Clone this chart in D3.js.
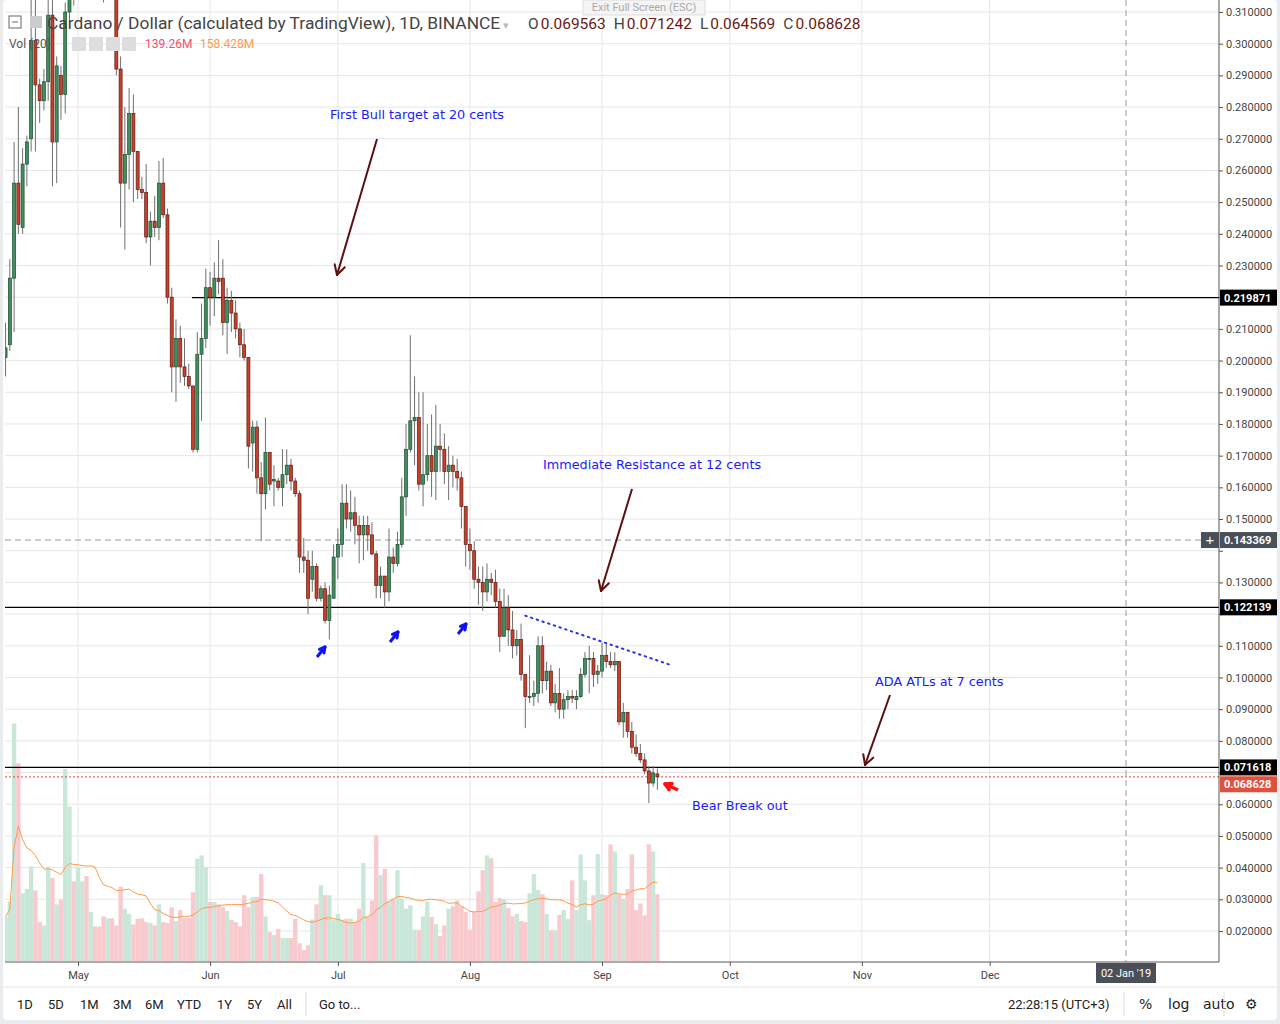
<!DOCTYPE html>
<html><head><meta charset="utf-8">
<script src="https://cdn.jsdelivr.net/npm/d3@7"></script>
<style>body{margin:0;background:#e9ecef;font-family:"Liberation Sans",Arial,sans-serif}</style>
</head><body>
<svg id="c" width="1280" height="1024"></svg>
<script>
// ---- DATA (prices in US cents) ----
const startDate = new Date(2018, 3, 14);
const openC  = [20.1,20.5,22.6,25.6,24.2,26.2,27.0,30.1,28.7,28.2,28.8,30.9,26.9,29.0,28.4,
 31.0,33.5,32.5,35.5,36.5,35,36,34.5,34,33,33.5,
 33.0,29.2,25.6,26.5,27.8,26.6,25.4,25.3,23.9,24.4,24.2,25.6,24.6,22.0,19.8,20.7,19.8,19.5,19.2,17.2,
 20.2,20.7,22.3,22.0,22.6,22.6,21.2,21.9,21.5,21.0,20.5,20.1,17.4,17.9,16.3,15.8,17.1,16.2,16.2,16.0,
 16.4,16.7,16.2,15.8,13.8,13.7,13.1,13.5,12.5,12.8,11.8,12.5,13.8,14.2,15.5,15.0,15.2,14.8,14.5,14.8,
 14.5,13.9,12.9,13.2,12.7,13.8,13.6,14.2,15.7,17.2,18.1,18.2,16.1,16.4,17.0,16.5,17.3,17.2,16.5,16.7,
 16.5,16.3,15.4,14.2,14.0,13.1,13.0,12.7,13.1,13.0,12.4,11.3,12.2,11.5,11.0,11.2,10.1,9.4,9.4,9.5,
 11.0,9.9,10.2,9.2,9.5,9.0,9.3,9.4,9.3,9.4,10.1,10.6,10.6,10.1,10.2,10.7,10.5,10.4,10.5,8.6,8.9,8.3,
 7.8,7.6,7.4,7.05,6.67,6.9563];
const highC  = [21.2,23.2,26.9,28.0,26.7,27.1,31.5,31.5,28.9,29.2,31.5,31.5,29.6,29.3,31.3,
 34.5,35,36,38,37.5,37,37,35.5,35,35,34.5,
 33.5,29.6,28.0,28.6,28.4,26.6,25.8,26.2,24.7,25.2,26.3,26.4,24.8,22.3,21.3,21.1,20.7,19.9,19.2,20.9,
 21.8,22.9,22.8,23.1,23.8,23.2,22.3,22.2,21.9,21.2,21.0,20.1,18.1,18.1,16.8,18.2,17.1,16.7,16.3,17.2,
 17.2,16.9,16.3,15.9,14.4,14.0,14.0,13.6,12.9,13.0,12.9,14.2,14.7,16.1,16.1,15.9,15.7,15.1,15.1,15.1,
 14.9,14.0,13.5,13.2,14.7,14.1,14.6,16.3,18.0,20.8,19.5,19.0,19.0,18.0,18.3,18.6,18.0,17.7,17.3,17.0,
 16.9,16.5,15.4,14.7,14.3,13.5,13.5,13.6,13.3,13.4,12.8,12.8,12.6,12.1,11.5,11.7,10.1,10.7,9.9,11.3,
 11.3,10.5,10.4,9.8,10.3,9.5,9.6,9.6,9.6,10.3,10.8,11.0,10.8,10.4,11.1,11.1,10.8,10.8,10.5,9.2,8.9,8.6,
 8.2,7.9,7.6,7.2,7.2,7.1242];
const lowC   = [19.5,20.3,20.9,24.0,24.0,25.5,26.6,26.6,27.5,27.9,28.2,25.5,25.6,27.6,27.8,
 30.5,31.2,32,34,33.5,33.5,33,32,31.3,32,32,
 29.0,24.2,23.5,25.4,25.0,25.1,25.1,23.7,23.0,23.9,23.8,24.5,21.8,19.0,18.7,19.3,19.2,19.1,17.1,17.1,
 18.1,20.4,21.1,21.4,22.1,20.8,20.2,20.9,20.7,20.1,20.0,16.6,16.5,15.8,14.3,15.3,15.9,15.4,15.9,15.4,
 16.1,15.9,15.7,13.3,13.3,12.0,12.7,12.4,12.4,11.7,11.2,12.5,13.1,13.8,14.7,14.6,14.2,13.6,13.7,14.0,
 13.85,12.5,12.5,12.2,12.4,13.3,13.5,14.1,15.1,17.1,16.7,15.9,15.4,16.2,15.7,15.6,16.5,16.1,15.6,16.0,
 15.9,14.7,13.5,13.4,12.8,12.3,12.1,12.4,12.6,12.2,10.8,11.3,11.0,10.6,10.7,9.9,8.4,9.2,9.1,9.2,
 9.5,9.6,9.1,8.9,8.7,8.7,9.0,9.2,9.0,9.35,10.0,9.5,9.7,9.8,10.0,10.3,10.3,10.2,8.5,8.1,8.1,7.6,
 7.5,7.3,6.95,6.04,6.55,6.4569];
const closeC = [20.4,22.6,25.6,24.3,26.2,26.9,30.1,28.7,28.2,28.8,30.9,26.9,29.3,28.4,31.0,
 33.5,32.5,35.5,36.5,35,36,34.5,34,33,33.5,33,
 29.2,25.6,26.5,27.8,26.6,25.4,25.3,23.9,24.4,24.2,25.6,24.6,22.0,19.8,20.7,19.8,19.5,19.2,17.2,20.2,
 20.7,22.3,22.0,22.6,22.5,21.2,21.9,21.5,21.0,20.5,20.1,17.3,17.9,16.3,15.8,17.1,16.1,16.25,16.0,16.4,
 16.7,16.2,15.8,13.8,13.7,12.5,13.5,12.5,12.8,11.8,12.6,13.8,14.2,15.5,15.0,15.2,14.8,14.5,14.8,14.5,
 13.9,12.9,13.2,12.7,13.8,13.6,14.2,15.7,17.2,18.1,18.2,16.1,16.4,17.0,16.5,17.3,17.2,16.5,16.7,16.5,
 16.3,15.4,14.2,14.0,13.1,13.0,12.7,13.1,13.0,12.4,11.3,12.2,11.5,11.0,11.2,10.1,9.4,9.4,9.5,11.0,
 9.9,10.2,9.2,9.5,9.0,9.3,9.4,9.35,9.4,10.1,10.6,10.6,10.1,10.2,10.7,10.5,10.4,10.5,8.6,8.9,8.3,7.8,
 7.6,7.4,7.05,6.67,6.99,6.8628];
const volumeM = [92,124,495,412,141,150,197,147,81,74,197,173,118,128,400,
 322,166,194,166,177,102,72,72,93,89,89,74,
 155,109,98,76,88,89,81,79,74,118,81,79,112,83,106,90,90,143,213,220,
 196,123,123,118,112,104,86,81,72,137,112,133,133,181,93,60,54,67,48,48,
 48,88,37,23,33,86,118,158,137,137,85,98,86,88,88,81,109,204,92,126,
 262,179,192,124,129,189,129,109,116,65,65,93,124,92,77,52,74,109,114,126,
 114,102,65,102,145,189,220,214,123,131,129,110,93,98,83,81,141,181,148,139,
 98,64,64,96,106,88,168,106,222,168,85,137,223,139,137,243,228,139,
 130,150,222,106,120,95,243,228,139];
const priceTicks = d3.range(2, 32).map(c => c / 100);
const monthTicks = [new Date(2018,4,1),new Date(2018,5,1),new Date(2018,6,1),new Date(2018,7,1),
 new Date(2018,8,1),new Date(2018,9,1),new Date(2018,10,1),new Date(2018,11,1)];
const levels = [{v:0.219871,x0:192},{v:0.122139,x0:5},{v:0.071618,x0:5}];
const lastPrice = 0.068628, crossPrice = 0.143369;
const notes = [
 {t:"First Bull target at 20 cents", x:330, y:119},
 {t:"Immediate Resistance at 12 cents", x:543, y:469},
 {t:"ADA ATLs at 7 cents", x:875, y:686},
 {t:"Bear Break out", x:692, y:810}];

const candles = openC.map((o,i)=>({d:d3.timeDay.offset(startDate,i),o:o/100,h:highC[i]/100,l:lowC[i]/100,c:closeC[i]/100,v:volumeM[i]}));

// ---- SCALES ----
const svg = d3.select("#c");
const L=5, R=1219, T=0, B=962;
const x = d3.scaleTime().domain([new Date(2018,4,1), new Date(2019,0,2)]).range([78,1126]);
const y = d3.scaleLinear().domain([0.02,0.31]).range([931,12]);
const yv = d3.scaleLinear().domain([0,100]).range([961,913]);

svg.append("rect").attr("x",3).attr("y",0).attr("width",1274).attr("height",1020).attr("rx",3).attr("fill","#fff");
svg.append("defs").append("clipPath").attr("id","clip").append("rect").attr("x",L).attr("y",T).attr("width",R-L).attr("height",B-T);

const g = svg.append("g").attr("clip-path","url(#clip)");
g.selectAll(".hg").data(priceTicks).join("line").attr("x1",L).attr("x2",R).attr("y1",d=>y(d)).attr("y2",d=>y(d)).attr("stroke","#e6e6e6");
g.selectAll(".vg").data(monthTicks).join("line").attr("y1",T).attr("y2",B).attr("x1",d=>x(d)).attr("x2",d=>x(d)).attr("stroke","#e6e6e6");

const bw = 4.3;
g.selectAll(".vol").data(candles).join("rect")
 .attr("x",d=>x(d.d)-bw/2).attr("width",bw).attr("y",d=>yv(d.v)).attr("height",d=>yv(0)-yv(d.v))
 .attr("fill",d=>d.c>=d.o?"#c9e7d8":"#f8c9cd");
const ma = candles.map((d,i)=>{const s=candles.slice(Math.max(0,i-19),i+1);return {d:d.d,v:d3.mean(s,e=>e.v)};});
g.append("path").datum(ma).attr("fill","none").attr("stroke","#ff9a4d").attr("stroke-width",1)
 .attr("d",d3.line().x(d=>x(d.d)).y(d=>yv(d.v)));

g.append("line").attr("x1",L).attr("x2",R).attr("y1",y(crossPrice)).attr("y2",y(crossPrice)).attr("stroke","#999").attr("stroke-dasharray","6,4");
g.append("line").attr("x1",x(new Date(2019,0,2))).attr("x2",x(new Date(2019,0,2))).attr("y1",T).attr("y2",B).attr("stroke","#999").attr("stroke-dasharray","6,4");
g.selectAll(".lv").data(levels).join("line").attr("x1",d=>d.x0).attr("x2",R).attr("y1",d=>y(d.v)).attr("y2",d=>y(d.v)).attr("stroke","#000").attr("stroke-width",1.2);
g.append("line").attr("x1",L).attr("x2",R).attr("y1",y(lastPrice)).attr("y2",y(lastPrice)).attr("stroke","#e0453a").attr("stroke-dasharray","2,2");

const cg = g.selectAll(".cd").data(candles).join("g");
cg.append("line").attr("x1",d=>x(d.d)).attr("x2",d=>x(d.d)).attr("y1",d=>y(d.h)).attr("y2",d=>y(d.l)).attr("stroke","#6f6f6f");
cg.append("rect").attr("x",d=>x(d.d)-1.5).attr("width",3)
 .attr("y",d=>y(Math.max(d.o,d.c))).attr("height",d=>Math.max(1,Math.abs(y(d.o)-y(d.c))))
 .attr("fill",d=>d.c>=d.o?"#3f8f5f":"#c8402c").attr("stroke",d=>d.c>=d.o?"#1f4a31":"#5a1a10").attr("stroke-width",0.7);

const trendD = [new Date(2018,7,14), new Date(2018,8,17)], trendV=[0.1195,0.1040];
g.append("line").attr("x1",x(trendD[0])).attr("x2",x(trendD[1])).attr("y1",y(trendV[0])).attr("y2",y(trendV[1]))
 .attr("stroke","#2233ee").attr("stroke-width",2).attr("stroke-dasharray","1.5,4.5").attr("stroke-linecap","round");

function arrow(x1,y1,x2,y2,col,w,hl){
 svg.append("line").attr("x1",x1).attr("y1",y1).attr("x2",x2).attr("y2",y2).attr("stroke",col).attr("stroke-width",w);
 const a=Math.atan2(y2-y1,x2-x1);
 [0.5,-0.5].forEach(s=>svg.append("line").attr("x1",x2).attr("y1",y2)
   .attr("x2",x2-hl*Math.cos(a+s)).attr("y2",y2-hl*Math.sin(a+s)).attr("stroke",col).attr("stroke-width",w).attr("stroke-linecap","round"));
}
arrow(377,139,337,275,"#5b1010",2,11);
arrow(632,489,601,591,"#5b1010",2,11);
arrow(890,695,865,765,"#5b1010",2,11);
[[317,657,325,647],[390,642,398,632],[458,634,466,624]].forEach(a=>arrow(a[0],a[1],a[2],a[3],"#1010ff",3,6));
arrow(678,790,665,784,"#ff1010",3.5,7);

svg.selectAll(".nt").data(notes).join("text").attr("x",d=>d.x).attr("y",d=>d.y).text(d=>d.t)
 .attr("fill","#1a1aff").attr("font-size",12.8).attr("font-family","DejaVu Sans, Verdana, sans-serif");

svg.append("line").attr("x1",R).attr("x2",R).attr("y1",0).attr("y2",B).attr("stroke","#555");
svg.append("line").attr("x1",L).attr("x2",R).attr("y1",B).attr("y2",B).attr("stroke","#555");
const labs=[{v:0.219871,f:"#000",p:0.219871},{v:crossPrice,f:"#4a4f58",p:crossPrice},{v:0.122139,f:"#000",p:0.122139},{v:0.071618,f:"#000",p:0.071618},{v:lastPrice,f:"#e0503e",p:0.0663}];
const ya = svg.append("g").attr("transform",`translate(${R},0)`).call(d3.axisRight(y).tickValues(priceTicks).tickFormat(d=>d.toFixed(6)).tickSize(4));
ya.select(".domain").remove();
ya.selectAll("text").attr("font-size",11).attr("fill","#444").attr("font-family","Roboto, sans-serif").attr("x",7);
ya.selectAll("line").attr("stroke","#555");
ya.selectAll(".tick").filter(d=>labs.some(l=>Math.abs(y(l.p)-y(d))<12)).select("text").remove();
const xa = svg.append("g").attr("transform",`translate(0,${B})`).call(d3.axisBottom(x).tickValues(monthTicks).tickFormat(d3.timeFormat("%b")).tickSize(4));
xa.select(".domain").remove();
xa.selectAll("text").attr("font-size",11).attr("fill","#444").attr("font-family","Roboto, sans-serif").attr("dy","0.9em");
xa.selectAll("line").attr("stroke","#555");
svg.append("rect").attr("x",x(new Date(2019,0,2))-30).attr("y",963).attr("width",60).attr("height",20).attr("fill","#4a4f58");
svg.append("text").attr("x",x(new Date(2019,0,2))).attr("y",977).attr("text-anchor","middle").attr("fill","#fff").attr("font-size",11).attr("font-family","Roboto, sans-serif").text("02 Jan '19");

labs.forEach(l=>{
 svg.append("rect").attr("x",R+1).attr("y",y(l.p)-8).attr("width",57).attr("height",16).attr("fill",l.f);
 svg.append("text").attr("x",R+5).attr("y",y(l.p)+4).attr("fill","#fff").attr("font-size",11).attr("font-weight","bold").attr("font-family","Roboto, sans-serif").text(l.v.toFixed(6));
});
svg.append("rect").attr("x",R-18).attr("y",y(crossPrice)-8).attr("width",18).attr("height",16).attr("fill","#4a4f58");
svg.append("text").attr("x",R-9).attr("y",y(crossPrice)+5).attr("text-anchor","middle").attr("fill","#fff").attr("font-size",15).text("+");

const hd = svg.append("text").attr("y",29).attr("font-family","Roboto, sans-serif").attr("font-size",17.4).attr("fill","#444");
hd.append("tspan").attr("x",47).text("Cardano / Dollar (calculated by TradingView), 1D, BINANCE");
hd.append("tspan").attr("fill","#bbb").attr("font-size",11).text(" ▾");
const ohlc=[["O",0.069563],["H",0.071242],["L",0.064569],["C",0.068628]];
const t2 = svg.append("text").attr("x",528).attr("y",29).attr("font-family","Roboto, sans-serif").attr("font-size",15.5);
ohlc.forEach((p,i)=>{t2.append("tspan").attr("fill","#444").attr("dx",i?8:0).text(p[0]);t2.append("tspan").attr("dx",2).attr("fill","#6b1a12").text(p[1].toFixed(6));});
svg.append("rect").attr("x",9).attr("y",16).attr("width",12).attr("height",12).attr("fill","none").attr("stroke","#666");
svg.append("line").attr("x1",12).attr("x2",18).attr("y1",22).attr("y2",22).attr("stroke","#666");
svg.append("rect").attr("x",30).attr("y",16).attr("width",12).attr("height",12).attr("fill","#ccc");
svg.append("text").attr("x",9).attr("y",48).attr("font-size",12).attr("fill","#555").attr("font-family","Roboto, sans-serif").text("Vol (20)");
[72,89,106,122].forEach(xx=>svg.append("rect").attr("x",xx).attr("y",37).attr("width",14).attr("height",14).attr("fill","#ddd"));
svg.append("text").attr("x",145).attr("y",48).attr("font-size",12).attr("fill","#f0506e").attr("font-family","Roboto, sans-serif").text("139.26M");
svg.append("text").attr("x",200).attr("y",48).attr("font-size",12).attr("fill","#ff9a4d").attr("font-family","Roboto, sans-serif").text("158.428M");
svg.append("rect").attr("x",583).attr("y",0).attr("width",122).attr("height",15).attr("fill","#f4f4f4").attr("stroke","#ddd");
svg.append("text").attr("x",644).attr("y",11).attr("text-anchor","middle").attr("font-size",11).attr("fill","#aaa").attr("font-family","Roboto, sans-serif").text("Exit Full Screen (ESC)");

svg.append("line").attr("x1",3).attr("x2",1277).attr("y1",987).attr("y2",987).attr("stroke","#e3e3e3");
const tb=[["1D",17],["5D",48],["1M",80],["3M",113],["6M",145],["YTD",177],["1Y",217],["5Y",247],["All",277],["Go to...",319]];
tb.forEach(t=>svg.append("text").attr("x",t[1]).attr("y",1009).attr("font-size",13).attr("fill","#222").attr("font-family","Roboto, sans-serif").text(t[0]));
svg.append("line").attr("x1",306).attr("x2",306).attr("y1",992).attr("y2",1016).attr("stroke","#ddd");
svg.append("text").attr("x",1008).attr("y",1009).attr("font-size",13).attr("fill","#222").attr("font-family","Roboto, sans-serif").text("22:28:15 (UTC+3)");
[["%",1139],["log",1168],["auto",1203],["⚙",1245]].forEach(t=>svg.append("text").attr("x",t[1]).attr("y",1009).attr("font-size",14).attr("fill","#222").attr("font-family","DejaVu Sans, sans-serif").text(t[0]));
[1124,1224].forEach(xx=>svg.append("line").attr("x1",xx).attr("x2",xx).attr("y1",992).attr("y2",1016).attr("stroke","#ddd"));
</script></body></html>
